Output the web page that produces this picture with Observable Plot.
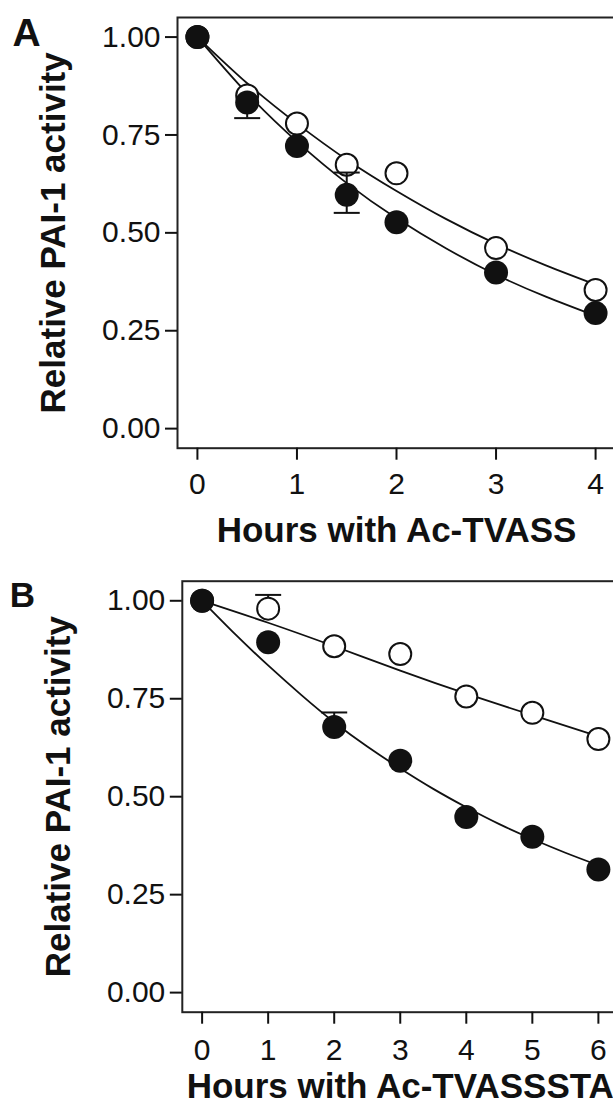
<!DOCTYPE html>
<html>
<head>
<meta charset="utf-8">
<script src="https://cdn.jsdelivr.net/npm/d3@7"></script>
<script src="https://cdn.jsdelivr.net/npm/@observablehq/plot@0.6"></script>
<style>
  html, body { margin: 0; padding: 0; background: white; overflow: hidden; }
  #wrap { width: 640px; }
  #wrap svg { display: block; }
</style>
</head>
<body>
<div id="wrap"></div>
<script>
// ---------- Panel A data ----------
const panelA = "A";
const xTitleA = "Hours with Ac-TVASS";
const hoursA = [0, 0.5, 1, 1.5, 2, 3, 4];
const filledA = [1.00, 0.833, 0.722, 0.597, 0.527, 0.399, 0.295];
const openA = [1.00, 0.851, 0.779, 0.674, 0.652, 0.461, 0.354];
const curveHoursA = [0, 0.5, 1, 1.5, 2, 2.5, 3, 3.5, 4];
const curveFilledA = [1.000, 0.856, 0.733, 0.627, 0.537, 0.460, 0.393, 0.337, 0.288];
const curveOpenA = [1.000, 0.882, 0.779, 0.687, 0.607, 0.535, 0.472, 0.417, 0.368];
const errHoursA = [0.5, 1.5];
const errLowA = [0.793, 0.551];
const errHighA = [0.833, 0.654];
const capHoursA = [0.5, 1.5, 1.5];
const capValuesA = [0.793, 0.551, 0.654];
const xTicksA = [0, 1, 2, 3, 4];

// ---------- Panel B data ----------
const panelB = "B";
const xTitleB = "Hours with Ac-TVASSSTA";
const hoursB = [0, 1, 2, 3, 4, 5, 6];
const filledB = [1.00, 0.894, 0.678, 0.592, 0.448, 0.398, 0.314];
const openB = [1.00, 0.980, 0.884, 0.864, 0.756, 0.714, 0.647];
const curveHoursB = [0, 0.5, 1, 1.5, 2, 2.5, 3, 3.5, 4, 4.5, 5, 5.5, 6];
const curveFilledB = [1.000, 0.915, 0.835, 0.760, 0.690, 0.628, 0.572, 0.520, 0.473, 0.430, 0.392, 0.357, 0.325];
const curveHoursOpenB = [0, 1, 2, 3, 4, 5, 6];
const curveOpenB = [1.000, 0.944, 0.884, 0.822, 0.763, 0.708, 0.654];
const errHoursB = [1, 2];
const errLowB = [0.980, 0.678];
const errHighB = [1.015, 0.715];
const capHoursB = [1, 2];
const capValuesB = [1.015, 0.715];
const xTicksB = [0, 1, 2, 3, 4, 5, 6];

// ---------- shared ----------
const yTitle = "Relative PAI-1 activity";
const yTicks = [0, 0.25, 0.5, 0.75, 1.0];

const fontFamily = "'Liberation Sans', Arial, Helvetica, sans-serif";
const ink = "#111";
const capSymbol = {
  draw(context, size) {
    const r = Math.sqrt(size / Math.PI);
    context.moveTo(-r, 0);
    context.lineTo(r, 0);
  }
};

function zip(xs, ys) { return xs.map((x, i) => ({x, y: ys[i]})); }

function panel(cfg) {
  const filled = zip(cfg.hours, cfg.filled);
  const open = zip(cfg.hours, cfg.open);
  const cFilled = zip(cfg.curveHoursFilled, cfg.curveFilled);
  const cOpen = zip(cfg.curveHoursOpen, cfg.curveOpen);
  const errs = cfg.errHours.map((x, i) => ({x, y1: cfg.errLow[i], y2: cfg.errHigh[i]}));
  const caps = zip(cfg.capHours, cfg.capValues);

  const lines = [
    Plot.line(cFilled, {x: "x", y: "y", curve: "natural", stroke: ink, strokeWidth: 1.8}),
    Plot.line(cOpen, {x: "x", y: "y", curve: "natural", stroke: ink, strokeWidth: 1.8})
  ];
  const errorMarks = [
    Plot.ruleX(errs, {x: "x", y1: "y1", y2: "y2", stroke: ink, strokeWidth: 2}),
    Plot.dot(caps, {x: "x", y: "y", symbol: capSymbol, r: 13, stroke: ink, strokeWidth: 2, fill: "none"})
  ];
  const openDots = Plot.dot(open, {x: "x", y: "y", r: 11, fill: "white", stroke: ink, strokeWidth: 2});
  const filledDots = Plot.dot(filled, {x: "x", y: "y", r: 12, fill: ink, stroke: "none"});

  const dataMarks = cfg.errorsOverOpen
    ? [...lines, openDots, ...errorMarks, filledDots]
    : [...lines, ...errorMarks, openDots, filledDots];

  return Plot.plot({
    width: cfg.width,
    height: cfg.height,
    marginLeft: cfg.marginLeft,
    marginRight: cfg.marginRight,
    marginTop: cfg.marginTop,
    marginBottom: cfg.marginBottom,
    x: {domain: cfg.xDomain},
    y: {domain: [-0.05, 1.05]},
    style: {fontFamily, background: "white", maxWidth: "none", overflow: "visible", color: ink},
    marks: [
      Plot.frame({stroke: "#222", strokeWidth: 2}),
      Plot.axisY(yTicks, {tickSize: 12, tickPadding: 5, fontSize: 30, strokeWidth: 2, color: ink,
        tickFormat: d => d.toFixed(2), label: null}),
      Plot.axisX(cfg.xTicks, {tickSize: 12, tickPadding: cfg.xPad, fontSize: 30, strokeWidth: 2, color: ink,
        tickFormat: d => String(d), label: null}),
      ...dataMarks,
      Plot.text([cfg.xTitle], {frameAnchor: "bottom", dy: cfg.xTitleDy, lineAnchor: "bottom",
        fontSize: 35, fontWeight: "bold", fill: ink}),
      Plot.text([yTitle], {frameAnchor: "left", rotate: -90, dx: -124, textAnchor: "middle",
        lineAnchor: "middle", fontSize: 35, fontWeight: "bold", fill: ink}),
      Plot.text([cfg.letter], {frameAnchor: "top-left", dx: cfg.letterDx, dy: cfg.letterDy,
        textAnchor: "start", lineAnchor: "bottom", fontSize: cfg.letterSize, fontWeight: "bold", fill: ink})
    ]
  });
}

const wrap = document.getElementById("wrap");
wrap.appendChild(panel({
  letter: panelA, xTitle: xTitleA,
  hours: hoursA, filled: filledA, open: openA,
  curveHoursFilled: curveHoursA, curveFilled: curveFilledA,
  curveHoursOpen: curveHoursA, curveOpen: curveOpenA,
  errHours: errHoursA, errLow: errLowA, errHigh: errHighA,
  capHours: capHoursA, capValues: capValuesA,
  xTicks: xTicksA, xDomain: [-0.2, 4.2],
  width: 620, height: 553, marginLeft: 177, marginRight: 5, marginTop: 17, marginBottom: 105.3,
  xPad: 12, xTitleDy: 93.5, errorsOverOpen: true,
  letterDx: -165, letterDy: 28, letterSize: 39
}));
wrap.appendChild(panel({
  letter: panelB, xTitle: xTitleB,
  hours: hoursB, filled: filledB, open: openB,
  curveHoursFilled: curveHoursB, curveFilled: curveFilledB,
  curveHoursOpen: curveHoursOpenB, curveOpen: curveOpenB,
  errHours: errHoursB, errLow: errLowB, errHigh: errHighB,
  capHours: capHoursB, capValues: capValuesB,
  xTicks: xTicksB, xDomain: [-0.3, 6.3],
  width: 623, height: 552, marginLeft: 181.8, marginRight: 5.3, marginTop: 27.7, marginBottom: 93.3,
  xPad: 14, xTitleDy: 85.5, errorsOverOpen: false,
  letterDx: -172.5, letterDy: 26, letterSize: 35
}));
</script>
</body>
</html>
